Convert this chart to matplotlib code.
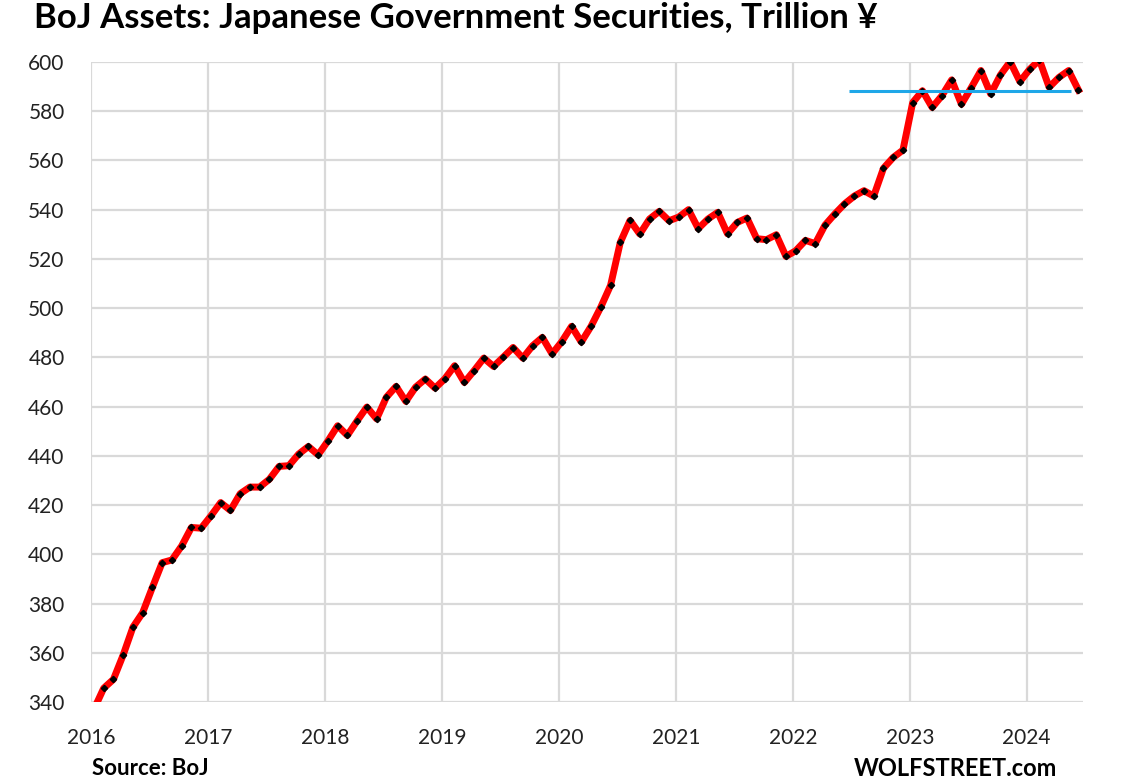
import matplotlib.pyplot as plt
import numpy as np

# monthly BoJ JGB holdings, trillion yen, Jan 2016 .. Jun 2024
jgb = [337.0, 345.6, 349.2, 359.1, 370.4, 376.3, 386.6, 396.6, 397.7, 403.4, 410.9, 410.6,
       415.6, 421.0, 417.8, 424.6, 427.3, 427.3, 430.5, 435.7, 436.0, 440.7, 443.8, 440.4,
       446.0, 452.2, 448.3, 454.2, 459.8, 455.0, 463.8, 468.2, 462.1, 467.9, 471.2, 467.5,
       471.3, 476.6, 469.8, 474.6, 479.7, 476.3, 480.1, 484.0, 479.7, 484.7, 488.1, 481.4,
       486.4, 492.6, 486.2, 492.6, 500.4, 509.2, 526.7, 535.6, 530.1, 536.2, 539.3, 535.5,
       537.0, 540.0, 532.3, 536.2, 538.9, 530.2, 534.8, 536.6, 528.2, 527.8, 529.8, 521.0,
       523.3, 527.5, 526.2, 533.7, 538.2, 542.3, 545.5, 547.7, 545.5, 556.8, 561.2, 564.2,
       583.5, 588.3, 581.5, 586.3, 592.7, 582.8, 589.5, 596.5, 587.0, 594.7, 600.1, 592.0,
       597.0, 600.8, 589.7, 593.7, 596.5, 588.6]
start_year = 2016
years = list(range(2016, 2025))
yticks = list(range(340, 601, 20))

# horizontal reference level (Feb 2023 level)
ref_level = 588.0
ref_span = (2022.48, 2024.38)

x = start_year + (np.arange(len(jgb)) + 0.3) / 12.0

fig = plt.figure(figsize=(11.21, 7.84), dpi=100)
ax = fig.add_axes([0.0812, 0.1046, 0.8848, 0.8164])

fam = ['Lato', 'DejaVu Sans']

ax.plot(x, jgb, color='#ff0000', lw=5, solid_joinstyle='round', zorder=3)
ax.plot(x, jgb, ls='none', marker='D', ms=3.2, color='black', zorder=4)
ax.hlines(ref_level, ref_span[0], ref_span[1], color='#1ea7e8', lw=2.2, zorder=5)

ax.set_xlim(2016, 2024.48)
ax.set_ylim(340, 600)
ax.set_xticks(years)
ax.set_yticks(yticks)
ax.set_xticklabels([str(y) for y in years], family=fam, fontsize=15, color='#222222')
ax.set_yticklabels([str(v) for v in yticks], family=fam, fontsize=15, color='#222222')
ax.tick_params(length=0)
ax.tick_params(axis='x', pad=19)
ax.tick_params(axis='y', pad=19)
ax.grid(True, color='#d9d9d9', lw=1.6)
ax.set_axisbelow(True)
for s in ax.spines.values():
    s.set_visible(False)

fig.text(0.03, 0.977, 'BoJ Assets: Japanese Government Securities, Trillion \u00a5',
         family=fam, fontsize=25, fontweight='bold', va='center', ha='left')
fig.text(0.082, 0.02, 'Source: BoJ', family=fam, fontsize=16, fontweight='bold',
         va='center', ha='left')
fig.text(0.943, 0.02, 'WOLFSTREET.com', family=fam, fontsize=17, fontweight='bold',
         va='center', ha='right')

fig.savefig('out.png', dpi=100)
